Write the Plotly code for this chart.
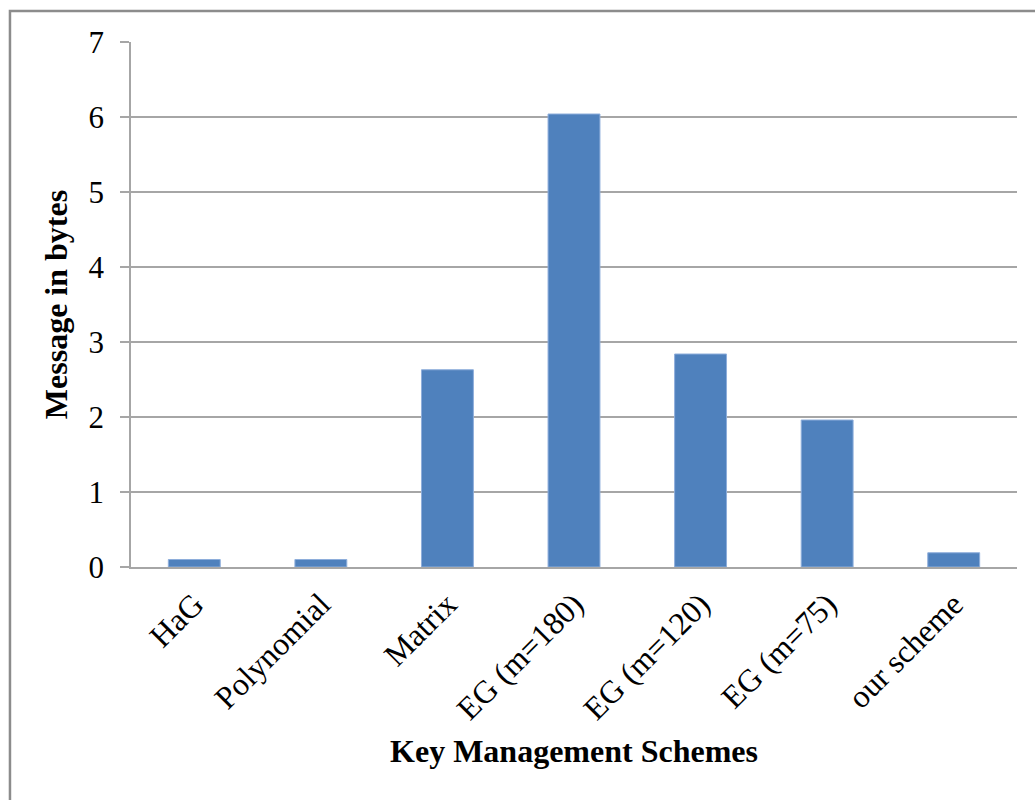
import plotly.graph_objects as go

categories = ["HaG", "Polynomial", "Matrix", "EG (m=180)", "EG (m=120)", "EG (m=75)", "our scheme"]
values = [0.1, 0.1, 2.63, 6.04, 2.84, 1.96, 0.19]
y_ticks = [0, 1, 2, 3, 4, 5, 6, 7]

FONT = "Liberation Serif, Times New Roman, serif"
GRID = "#a6a6a6"

fig = go.Figure(go.Bar(
    x=categories, y=values,
    marker=dict(color="#4F81BD", line=dict(color="#8eaedb", width=1)),
))

fig.update_layout(
    width=1035, height=800,
    margin=dict(l=131, r=18, t=42, b=233),
    paper_bgcolor="white", plot_bgcolor="white",
    bargap=0.59,
    showlegend=False,
    font=dict(family=FONT, color="black"),
    shapes=[dict(type="rect", xref="paper", yref="paper",
                 x0=-0.1366, x1=1.08, y0=-0.6, y1=1.059,
                 line=dict(color="#8c8c8c", width=2.5), layer="below")],
)

fig.update_xaxes(
    tickangle=-45, tickfont=dict(size=32, family=FONT),
    showline=True, linecolor=GRID, linewidth=1.5,
    ticks="", showgrid=False, ticklabelstandoff=4,
    title=dict(text="<b>Key Management Schemes</b>", font=dict(size=32, family=FONT), standoff=14),
    automargin=False,
)
fig.update_yaxes(
    range=[0, 7], tickvals=y_ticks, tickfont=dict(size=31, family=FONT),
    showline=True, linecolor=GRID, linewidth=1.5,
    ticks="outside", ticklen=9, tickcolor=GRID, tickwidth=1.5,
    ticklabelstandoff=10,
    showgrid=True, gridcolor=GRID, gridwidth=1.5, zeroline=False,
    title=dict(text="<b>Message in bytes</b>", font=dict(size=32, family=FONT), standoff=11),
    automargin=False,
)

fig.write_html("out.html")
